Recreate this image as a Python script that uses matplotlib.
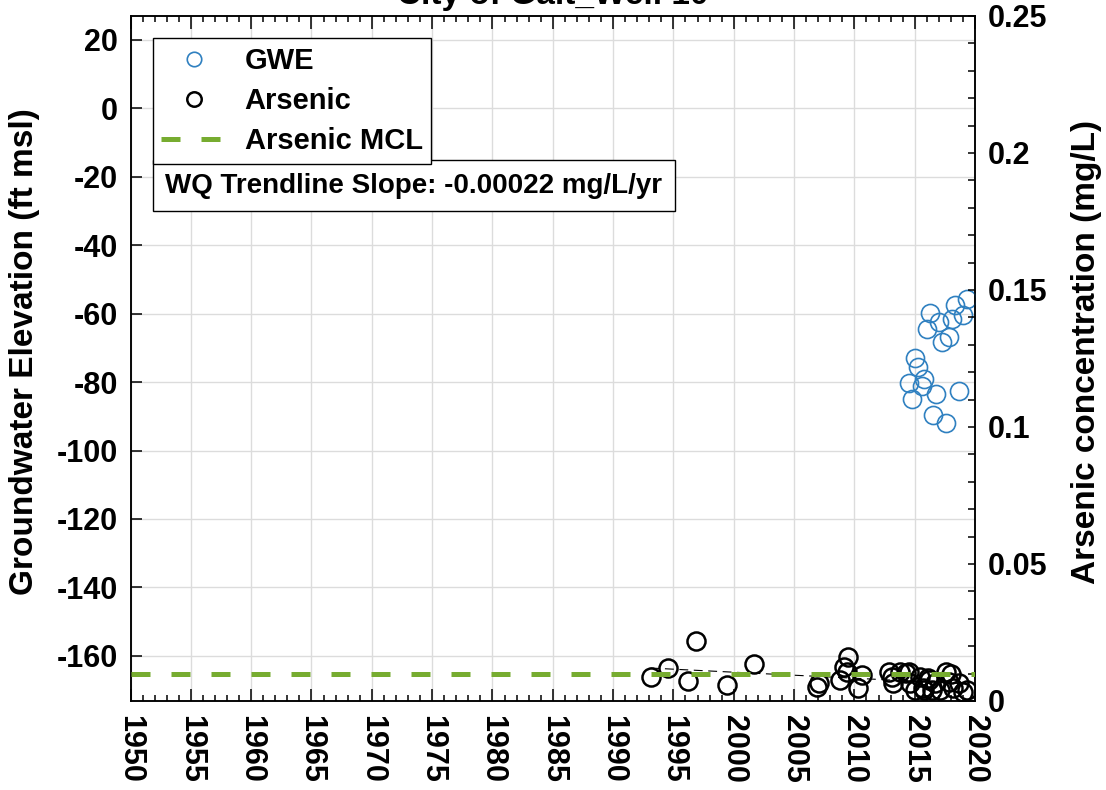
import matplotlib
matplotlib.use("Agg")
import matplotlib.pyplot as plt
from matplotlib.ticker import MultipleLocator

plt.rcParams['font.family'] = ['Liberation Sans', 'DejaVu Sans']
plt.rcParams['font.weight'] = 'bold'
plt.rcParams['axes.unicode_minus'] = False

# groundwater elevation (ft msl)
gwe_years = [2019.3, 2018.3, 2019.0, 2016.3, 2018.1, 2017.0, 2016.0, 2017.8, 2017.3,
             2015.0, 2015.3, 2015.8, 2014.5, 2015.6, 2016.8, 2018.7, 2014.8, 2016.5, 2017.6]
gwe_values = [-55.8, -57.5, -60.4, -59.9, -61.6, -62.3, -64.6, -66.7, -68.2,
              -73.0, -75.7, -79.2, -80.3, -81.1, -83.5, -82.5, -85.0, -89.6, -92.0]

# arsenic concentration (mg/L)
as_years = [1993.1, 1994.55, 1996.85, 1996.2, 1999.4, 2001.7, 2006.9, 2007.1,
            2009.5, 2009.1, 2009.35, 2008.8, 2010.6, 2010.3,
            2012.9, 2013.1, 2013.2, 2013.8, 2014.3, 2014.6, 2015.0, 2015.4,
            2015.7, 2016.1, 2016.4, 2016.7, 2017.6, 2017.8, 2018.2, 2018.7,
            2019.3, 2017.1, 2014.5, 2015.8, 2018.0, 2019.0, 2016.2]
as_values = [0.0086, 0.0122, 0.0220, 0.0073, 0.0058, 0.0135, 0.0052, 0.0065,
             0.0162, 0.0125, 0.0107, 0.0077, 0.0095, 0.0046,
             0.0107, 0.0089, 0.0066, 0.0107, 0.0101, 0.0065, 0.0040, 0.0089,
             0.0046, 0.0083, 0.0040, 0.0065, 0.0107, 0.0070, 0.0046, 0.0065,
             0.0040, 0.0040, 0.0106, 0.0040, 0.0099, 0.0033, 0.0077]

arsenic_mcl = 0.010
trend_slope = -0.00022   # mg/L/yr
trend_ref_year = 1995.0
trend_ref_value = 0.0116
trend_span = [1993.1, 2019.3]

fig = plt.figure(figsize=(11.06, 7.90), dpi=100)
ax = fig.add_axes([0.118, 0.1127, 0.7636, 0.8671])
ax2 = ax.twinx()

blue = '#2f80c0'
green = '#77AC30'

h_gwe, = ax.plot(gwe_years, gwe_values, 'o', mfc='none', mec=blue, ms=13, mew=1.2,
                 label='GWE', zorder=3)

# arsenic on the right axis
h_as, = ax2.plot(as_years, as_values, 'o', mfc='none', mec='black', ms=13, mew=1.8,
                 label='Arsenic', zorder=3)
h_mcl, = ax2.plot([1950, 2020], [arsenic_mcl, arsenic_mcl], color=green, lw=3.6,
                  dashes=(3.8, 4.2), label='Arsenic MCL', zorder=4)
trend_vals = [trend_ref_value + trend_slope * (y - trend_ref_year) for y in trend_span]
ax2.plot(trend_span, trend_vals, color='black', lw=0.8, dashes=(8, 5), zorder=2)

ax.set_xlim(1950, 2020)
ax.set_ylim(-173.2, 27.0)
ax2.set_ylim(0, 0.25)

ax.xaxis.set_major_locator(MultipleLocator(5))
ax.xaxis.set_minor_locator(MultipleLocator(1))
ax.yaxis.set_major_locator(MultipleLocator(20))
ax2.yaxis.set_major_locator(MultipleLocator(0.05))
ax2.yaxis.set_minor_locator(MultipleLocator(0.01))
ax2.yaxis.set_major_formatter(plt.FuncFormatter(lambda v, p: f'{v:g}'))

ax.grid(True, which='major', color='#dcdcdc', lw=1.0)
ax.set_axisbelow(True)

ax.tick_params(axis='x', which='major', direction='in', length=9, width=1.1,
               top=True, labelsize=22, pad=10, labelrotation=-90)
ax.tick_params(axis='x', which='minor', direction='in', length=4, width=1.1, top=True)
ax.tick_params(axis='y', which='major', direction='in', length=8, width=1.1,
               labelsize=22, pad=9)
ax2.tick_params(axis='y', which='both', direction='in', length=5, width=1.1,
                labelsize=22, pad=9)

for sp in list(ax.spines.values()) + list(ax2.spines.values()):
    sp.set_linewidth(1.1)

ax.set_ylabel('Groundwater Elevation (ft msl)', fontsize=24, fontweight='bold', va='center')
ax.yaxis.set_label_coords(-0.126, 0.51)
ax2.set_ylabel('Arsenic concentration (mg/L)', fontsize=24, fontweight='bold', va='center')
ax2.yaxis.set_label_coords(1.132, 0.51)

fig.text(0.5 * (0.118 + 0.8816), 1 - 4 / 790, 'City of Galt_Well 10',
         ha='center', va='baseline', fontsize=24, fontweight='bold')

leg = ax2.legend([h_gwe, h_as, h_mcl], ['GWE', 'Arsenic', 'Arsenic MCL'],
                 loc='upper left', bbox_to_anchor=(0.0263, 0.9675), borderaxespad=0,
                 fontsize=21, handlelength=2.2, handletextpad=0.65, labelspacing=0.42,
                 borderpad=0.3, markerscale=0.8, fancybox=False, framealpha=1,
                 edgecolor='black')
leg.get_frame().set_linewidth(1.0)
leg.set_zorder(10)

ax2.text(0.0409, 0.7518, 'WQ Trendline Slope: -0.00022 mg/L/yr', transform=ax2.transAxes,
         fontsize=20, fontweight='bold', va='center', ha='left', zorder=10,
         bbox=dict(boxstyle='square,pad=0.45', fc='white', ec='black', lw=1.0))

fig.savefig('out.png', dpi=100)
